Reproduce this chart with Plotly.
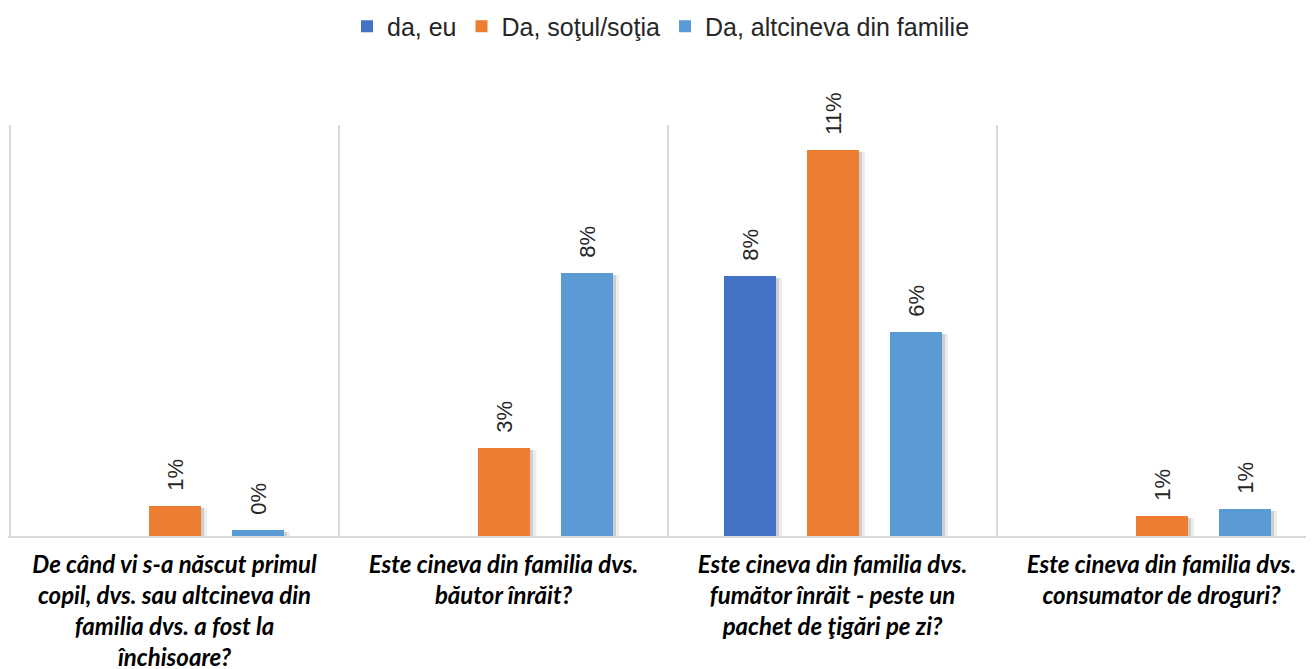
import plotly.graph_objects as go

categories = [
    "De când vi s-a născut primul<br>copil, dvs. sau altcineva din<br>familia dvs. a fost la<br>închisoare?",
    "Este cineva din familia dvs.<br>băutor înrăit?",
    "Este cineva din familia dvs.<br>fumător înrăit - peste un<br>pachet de ţigări pe zi?",
    "Este cineva din familia dvs.<br>consumator de droguri?",
]
series_names = ["da, eu", "Da, soţul/soţia", "Da, altcineva din familie"]
da_eu = [None, None, 7.59, None]
sotul = [0.88, 2.57, 11.27, 0.58]
altcineva = [0.18, 7.68, 5.96, 0.79]
colors = ["#4472C4", "#ED7D31", "#5B9BD5"]

series = [da_eu, sotul, altcineva]
xpos = list(range(len(categories)))

PX_PER_CAT = 329.0
bar_w = 52 / PX_PER_CAT
step = 83 / PX_PER_CAT
centers = [-step, 0.0, step]

fig = go.Figure()

# soft shadows behind the bars
for i, vals in enumerate(series):
    for dx, alpha in [(6, 0.07), (3, 0.13)]:
        fig.add_trace(go.Bar(
            x=xpos, y=[None if v is None else max(v - 0.05, 0) for v in vals],
            width=bar_w, offset=centers[i] - bar_w / 2 + dx / PX_PER_CAT,
            marker=dict(color=f"rgba(0,0,0,{alpha})", line=dict(width=0)),
            showlegend=False, hoverinfo="skip",
        ))

for i, vals in enumerate(series):
    fig.add_trace(go.Bar(
        x=xpos, y=vals, name=series_names[i],
        width=bar_w, offset=centers[i] - bar_w / 2,
        marker=dict(color=colors[i], line=dict(width=0)),
        texttemplate="\u00a0\u00a0%{y:.0f}%", textposition="outside", textangle=-90,
        constraintext="none",
        textfont=dict(family="Liberation Sans, Arial", size=22, color="#262626"),
        cliponaxis=False,
    ))

x0 = -0.5 - 2 / PX_PER_CAT
fig.update_layout(
    width=1306, height=661,
    barmode="overlay",
    margin=dict(l=0, r=0, t=117, b=133, autoexpand=False),
    paper_bgcolor="white", plot_bgcolor="white",
    font=dict(family="Liberation Sans, Arial", color="#262626"),
    legend=dict(orientation="h", x=0.5, xanchor="center", yref="container", y=0.972,
                yanchor="middle", font=dict(size=25, color="#262626"),
                traceorder="normal", itemwidth=30),
    xaxis=dict(
        range=[x0, x0 + 1306 / PX_PER_CAT],
        tickvals=xpos, ticktext=categories,
        tickfont=dict(family="Lato", size=24, color="#000000", weight="bold", style="italic"),
        showgrid=False, zeroline=False, automargin=False,
        showline=True, linecolor="#D9D9D9", linewidth=2,
        ticks="", ticklabelstandoff=6,
        minor=dict(tickvals=[-0.5, 0.5, 1.5, 2.5], showgrid=True, gridcolor="#D9D9D9", gridwidth=1.5),
    ),
    yaxis=dict(range=[0, 12], visible=False, showgrid=False, zeroline=False, automargin=False),
    bargap=0,
)

fig.write_html("out.html")
